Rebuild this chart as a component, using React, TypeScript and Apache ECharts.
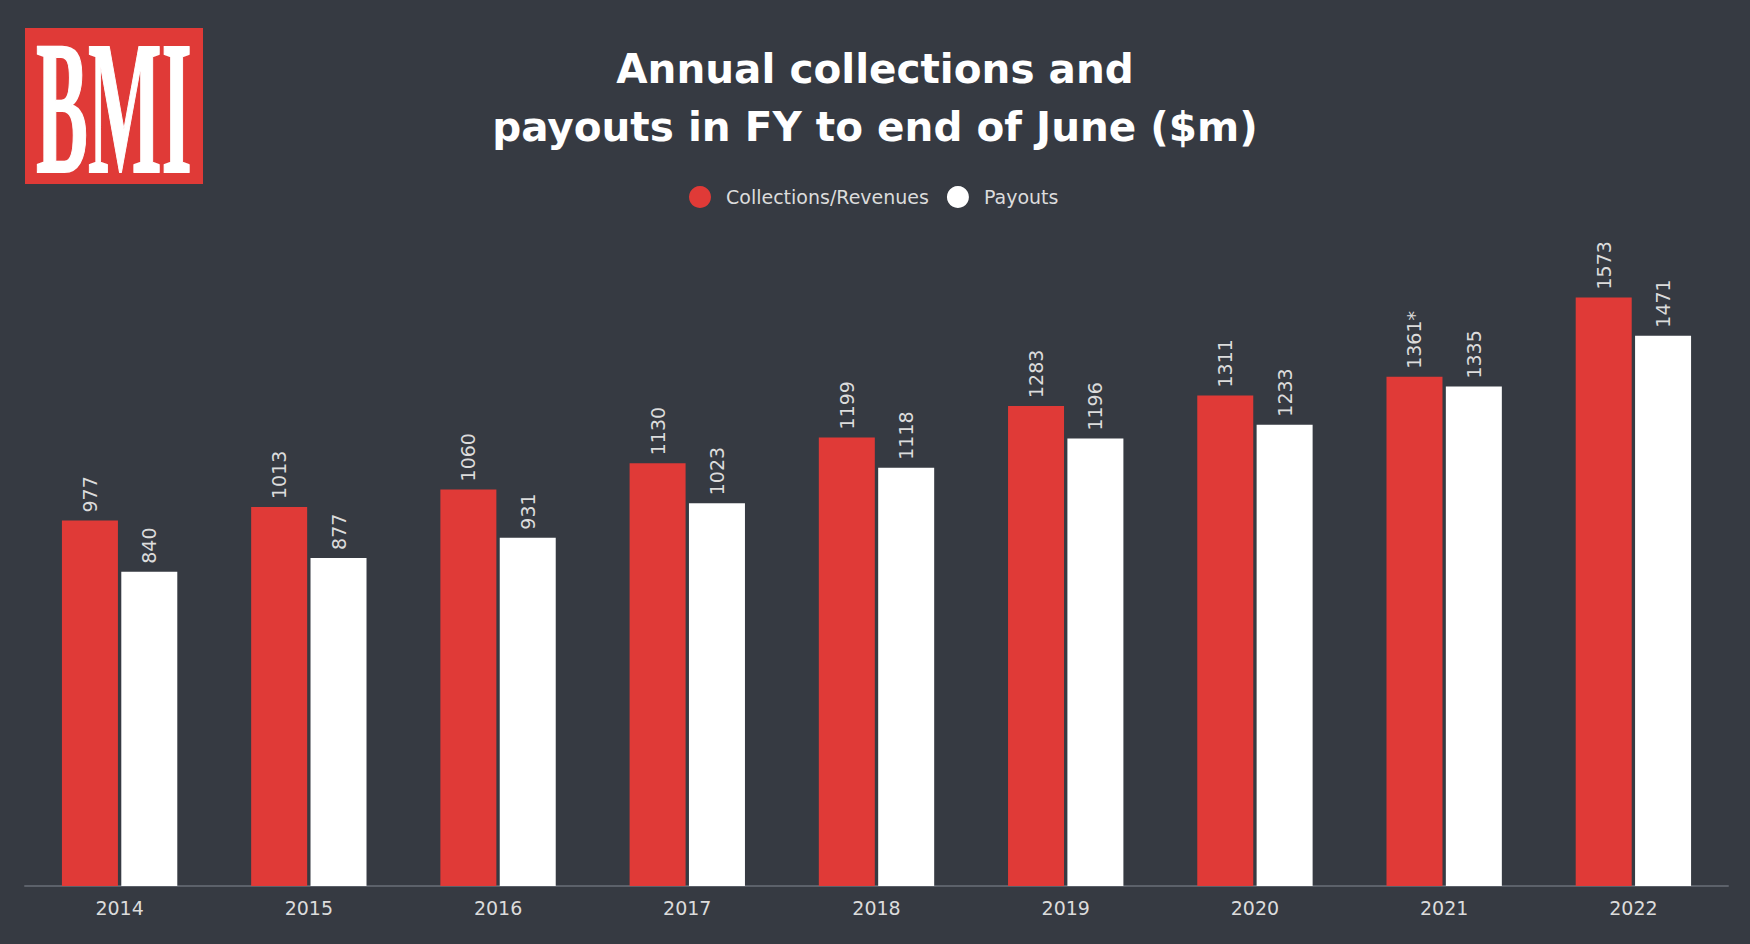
import React, { useEffect, useRef } from "react";
import * as echarts from "echarts";

const years = ["2014", "2015", "2016", "2017", "2018", "2019", "2020", "2021", "2022"];
const collections = [977, 1013, 1060, 1130, 1199, 1283, 1311, 1361, 1573];
const collectionLabels = ["977", "1013", "1060", "1130", "1199", "1283", "1311", "1361*", "1573"];
const payouts = [840, 877, 931, 1023, 1118, 1196, 1233, 1335, 1471];
const seriesNames = ["Collections/Revenues", "Payouts"];

const BG = "#363a42";
const RED = "#e03a37";
const TEXT = "#dcdcdc";

export default function App() {
  const ref = useRef<HTMLDivElement>(null);
  useEffect(() => {
    document.body.style.margin = "0";
    const chart = echarts.init(ref.current!, null, { renderer: "svg" });
    const labelBase = {
      show: true,
      position: "top",
      rotate: 90,
      align: "left",
      verticalAlign: "middle",
      distance: 8,
      color: TEXT,
      fontFamily: "DejaVu Sans",
      fontSize: 19,
    };
    chart.setOption({
      animation: false,
      backgroundColor: BG,
      title: {
        text: "Annual collections and\npayouts in FY to end of June ($m)",
        left: 870,
        top: 35,
        textAlign: "center",
        textStyle: {
          color: "#ffffff",
          fontFamily: "DejaVu Sans",
          fontWeight: "bold",
          fontSize: 40.5,
          lineHeight: 58,
        },
      },
      legend: {
        top: 181,
        left: 684,
        icon: "circle",
        itemWidth: 22,
        itemHeight: 22,
        itemGap: 18,
        textStyle: { color: TEXT, fontFamily: "DejaVu Sans", fontSize: 19, padding: [0, 0, 0, 10] },
        data: seriesNames,
      },
      grid: { left: 25, right: 22, top: 250, bottom: 58, containLabel: false },
      xAxis: {
        type: "category",
        data: years,
        axisLine: { show: true, lineStyle: { color: "#5c616a", width: 2 } },
        axisTick: { show: false },
        axisLabel: { color: TEXT, fontFamily: "DejaVu Sans", fontSize: 19, margin: 12 },
      },
      yAxis: {
        type: "value",
        min: 0,
        max: 1700,
        show: false,
        splitLine: { show: false },
      },
      series: [
        {
          name: seriesNames[0],
          type: "bar",
          data: collections,
          barWidth: 56,
          barGap: "6%",
          itemStyle: { color: RED },
          label: {
            ...labelBase,
            formatter: (p: any) => collectionLabels[p.dataIndex],
          },
        },
        {
          name: seriesNames[1],
          type: "bar",
          data: payouts,
          barWidth: 56,
          barGap: "6%",
          itemStyle: { color: "#ffffff" },
          label: { ...labelBase },
        },
      ],
      graphic: [
        {
          type: "rect",
          left: 25,
          top: 28,
          shape: { width: 178, height: 156 },
          style: { fill: RED },
        },
        {
          type: "text",
          x: 114,
          y: 108,
          scaleX: 0.41,
          style: {
            text: "BMI",
            fill: "#ffffff",
            font: "bold 190px 'Liberation Serif'",
            align: "center",
            verticalAlign: "middle",
            stroke: "#ffffff",
            lineWidth: 2,
          },
        },
      ],
    });
    return () => chart.dispose();
  }, []);
  return <div ref={ref} style={{ width: 1750, height: 944 }} />;
}
